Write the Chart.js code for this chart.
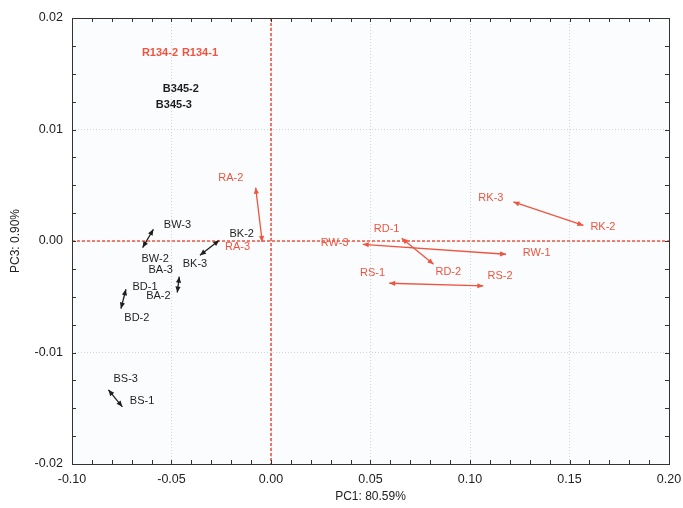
<!DOCTYPE html>
<html lang="en">
<head>
    <meta charset="UTF-8">
    <title>PCA PC1 vs PC3</title>
    <script src="https://cdn.jsdelivr.net/npm/chart.js@4.4.1/dist/chart.umd.min.js"></script>
    <style>
        body { margin: 0; background: #fff; }
        #wrap { width: 683px; height: 508px; }
    </style>
</head>
<body>
    <div id="wrap"><canvas id="myChart" width="683" height="508"></canvas></div>

    <script>
        // arrows between replicate scores (start -> end, PC1 / PC3)
        const arrowNames = ['BW', 'BK', 'BA', 'BD', 'BS', 'RA', 'RK', 'RW', 'RD', 'RS'];
        const arrowGroup = ['B', 'B', 'B', 'B', 'B', 'R', 'R', 'R', 'R', 'R'];
        const startX = [-0.0645, -0.0357, -0.0461, -0.0729, -0.0817, -0.0077, 0.1218, 0.0461, 0.0657, 0.0594];
        const startY = [-0.00059, -0.00128, -0.0032, -0.00433, -0.01335, 0.00478, 0.0035, -0.0003, 0.00024, -0.00379];
        const endX = [-0.0591, -0.0260, -0.0471, -0.0754, -0.0747, -0.0044, 0.1570, 0.1181, 0.0817, 0.1067];
        const endY = [0.00105, 0.00006, -0.00462, -0.00606, -0.01487, -0.00009, 0.0014, -0.00119, -0.00209, -0.00403];

        // sample labels
        const labelText = ['R134-2', 'R134-1', 'B345-2', 'B345-3', 'RA-2', 'BW-3', 'BK-2', 'RA-3', 'BW-2', 'BK-3',
            'BA-3', 'BD-1', 'BA-2', 'BD-2', 'BS-3', 'BS-1', 'RK-3', 'RK-2', 'RD-1', 'RW-3', 'RW-1', 'RS-1', 'RD-2', 'RS-2'];
        const labelX = [-0.0558, -0.0357, -0.0453, -0.0488, -0.0202, -0.0470, -0.0147, -0.0168, -0.0582, -0.0382,
            -0.0554, -0.0633, -0.0566, -0.0674, -0.0730, -0.0648, 0.1105, 0.1668, 0.0581, 0.0320, 0.1335, 0.0510, 0.0891, 0.1151];
        const labelY = [0.01688, 0.01688, 0.01366, 0.01216, 0.00568, 0.00143, 0.00066, -0.0005, -0.00158, -0.00209,
            -0.00263, -0.00409, -0.00493, -0.00686, -0.01239, -0.01434, 0.00389, 0.00129, 0.00105, -0.0002, -0.0011, -0.00283, -0.00278, -0.00314];
        const labelGroup = ['R', 'R', 'B', 'B', 'R', 'B', 'B', 'R', 'B', 'B',
            'B', 'B', 'B', 'B', 'B', 'B', 'R', 'R', 'R', 'R', 'R', 'R', 'R', 'R'];
        const labelBold = [true, true, true, true];

        const xTitle = 'PC1: 80.59%';
        const yTitle = 'PC3: 0.90%';

        const RED = 'rgb(239, 84, 64)';
        const BLACK = '#1e1e1e';
        const FONT = 'Arial, "Liberation Sans", sans-serif';

        const datasets = arrowNames.map((name, i) => ({
            label: name,
            data: [{x: startX[i], y: startY[i]}, {x: endX[i], y: endY[i]}],
            showLine: true,
            borderColor: arrowGroup[i] === 'R' ? RED : BLACK,
            borderWidth: 1.3,
            pointRadius: 0
        }));

        function head(ctx, tip, from, color) {
            const a = Math.atan2(tip.y - from.y, tip.x - from.x);
            const len = 6, w = 2.6;
            ctx.fillStyle = color;
            ctx.beginPath();
            ctx.moveTo(tip.x, tip.y);
            ctx.lineTo(tip.x - len * Math.cos(a) + w * Math.sin(a), tip.y - len * Math.sin(a) - w * Math.cos(a));
            ctx.lineTo(tip.x - len * Math.cos(a) - w * Math.sin(a), tip.y - len * Math.sin(a) + w * Math.cos(a));
            ctx.closePath();
            ctx.fill();
        }

        const decor = {
            id: 'decor',
            beforeDraw(chart) {
                const {ctx, chartArea: a} = chart;
                ctx.save();
                ctx.fillStyle = '#fbfcfd';
                ctx.fillRect(a.left, a.top, a.right - a.left, a.bottom - a.top);
                ctx.restore();
            },
            afterDatasetsDraw(chart) {
                const {ctx, chartArea: a, scales: {x, y}} = chart;
                ctx.save();
                // dashed zero lines
                ctx.strokeStyle = RED;
                ctx.lineWidth = 1.6;
                ctx.setLineDash([3, 2]);
                const x0 = Math.round(x.getPixelForValue(0));
                const y0 = Math.round(y.getPixelForValue(0));
                ctx.beginPath();
                ctx.moveTo(x0, a.top);
                ctx.lineTo(x0, a.bottom);
                ctx.stroke();
                ctx.beginPath();
                ctx.moveTo(a.left, y0);
                ctx.lineTo(a.right, y0);
                ctx.stroke();
                ctx.setLineDash([]);
                // arrow heads at both ends
                chart.data.datasets.forEach((ds, i) => {
                    const pts = chart.getDatasetMeta(i).data;
                    head(ctx, pts[0], pts[1], ds.borderColor);
                    head(ctx, pts[1], pts[0], ds.borderColor);
                });
                // labels
                ctx.textAlign = 'center';
                ctx.textBaseline = 'middle';
                labelText.forEach((t, i) => {
                    ctx.font = (labelBold[i] ? 'bold ' : '') + '11px ' + FONT;
                    ctx.fillStyle = labelGroup[i] === 'R' ? RED : BLACK;
                    ctx.fillText(t, x.getPixelForValue(labelX[i]), y.getPixelForValue(labelY[i]));
                });
                // frame and inward ticks
                ctx.strokeStyle = '#333';
                ctx.lineWidth = 1;
                ctx.strokeRect(a.left + 0.5, a.top + 0.5, a.right - a.left, a.bottom - a.top);
                ctx.beginPath();
                for (let v = -0.10; v <= 0.2001; v += 0.01) {
                    const px = Math.round(x.getPixelForValue(v)) + 0.5;
                    ctx.moveTo(px, a.bottom); ctx.lineTo(px, a.bottom - 4);
                    ctx.moveTo(px, a.top); ctx.lineTo(px, a.top + 4);
                }
                for (let v = -0.02; v <= 0.02001; v += 0.0025) {
                    const py = Math.round(y.getPixelForValue(v)) + 0.5;
                    ctx.moveTo(a.left, py); ctx.lineTo(a.left + 4, py);
                    ctx.moveTo(a.right, py); ctx.lineTo(a.right - 4, py);
                }
                ctx.stroke();
                ctx.restore();
            }
        };

        const gridOpts = {color: '#cdd6dd', drawTicks: false, lineWidth: 1};

        new Chart(document.getElementById('myChart'), {
            type: 'scatter',
            data: {datasets},
            plugins: [decor],
            options: {
                responsive: false,
                animation: false,
                layout: {padding: {top: 18, right: 14, left: 2, bottom: 0}},
                plugins: {legend: {display: false}, tooltip: {enabled: false}},
                scales: {
                    x: {
                        min: -0.10, max: 0.20,
                        ticks: {stepSize: 0.05, padding: 8, color: '#222', font: {family: FONT, size: 12.5},
                            callback: v => v.toFixed(2)},
                        grid: gridOpts,
                        border: {display: false, dash: [1, 2]},
                        title: {display: true, text: xTitle, color: '#222', font: {family: FONT, size: 12},
                            padding: {top: 4, bottom: 4}},
                        afterFit(s) { s.height = 44; s.paddingLeft = 0; s.paddingRight = 0; }
                    },
                    y: {
                        min: -0.02, max: 0.02,
                        ticks: {stepSize: 0.01, padding: 9, color: '#222', font: {family: FONT, size: 12.5},
                            callback: v => v.toFixed(2)},
                        grid: gridOpts,
                        border: {display: false, dash: [1, 2]},
                        title: {display: true, text: yTitle, color: '#222', font: {family: FONT, size: 12},
                            padding: {top: 6, bottom: 4}},
                        afterFit(s) { s.width = 70; s.paddingTop = 0; s.paddingBottom = 0; }
                    }
                }
            }
        });
    </script>
</body>
</html>
